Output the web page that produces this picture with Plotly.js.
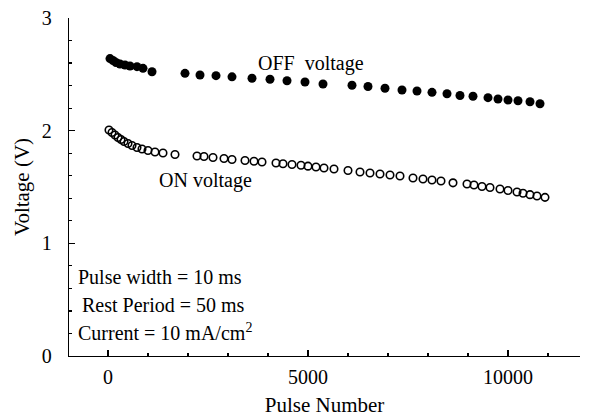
<!DOCTYPE html>
<html>
<head>
<meta charset="utf-8">
<script src="https://cdn.plot.ly/plotly-3.0.1.min.js"></script>
<style>html,body{margin:0;padding:0;background:#fff;}#chart{width:600px;height:418px;}</style>
</head>
<body>
<div id="chart"></div>
<script>
// OFF voltage series (filled circles)
const offPulse = [50,125,200,300,425,550,725,875,1100,1925,2300,2700,3100,3600,4050,4475,4925,5375,6100,6500,6925,7350,7725,8100,8475,8800,9125,9500,9750,10000,10250,10550,10800];
const offVoltage = [2.640,2.623,2.605,2.592,2.583,2.574,2.568,2.553,2.523,2.509,2.494,2.488,2.478,2.465,2.456,2.443,2.432,2.414,2.403,2.392,2.376,2.361,2.352,2.340,2.328,2.312,2.305,2.293,2.281,2.272,2.266,2.257,2.239];

// ON voltage series (open circles)
const onPulse = [25,100,175,250,325,400,500,600,725,850,1000,1175,1375,1675,2225,2400,2625,2900,3100,3425,3650,3850,4200,4375,4600,4825,5000,5200,5400,5650,6000,6300,6550,6800,7050,7300,7625,7875,8100,8325,8625,8975,9150,9350,9550,9800,10000,10225,10375,10550,10725,10925];
const onVoltage = [2.006,1.984,1.961,1.939,1.922,1.904,1.886,1.868,1.851,1.837,1.824,1.811,1.802,1.788,1.775,1.771,1.762,1.753,1.744,1.735,1.729,1.722,1.713,1.706,1.700,1.693,1.685,1.677,1.669,1.660,1.646,1.633,1.624,1.615,1.606,1.598,1.580,1.571,1.562,1.553,1.537,1.527,1.518,1.504,1.496,1.482,1.469,1.456,1.444,1.432,1.420,1.408];

// Tick labels
const xTicks = [0, 5000, 10000];
const yTicks = [0, 1, 2, 3];

const serif = 'Liberation Serif, Times New Roman, serif';

const traces = [
  {x: offPulse, y: offVoltage, type: 'scatter', mode: 'markers', name: 'OFF voltage',
   marker: {symbol: 'circle', size: 9, color: '#000'}},
  {x: onPulse, y: onVoltage, type: 'scatter', mode: 'markers', name: 'ON voltage',
   marker: {symbol: 'circle-open', size: 7.5, color: '#000', line: {width: 1.6, color: '#000'}}}
];

const layout = {
  width: 600, height: 418,
  margin: {l: 69, r: 20, t: 18, b: 62},
  paper_bgcolor: '#fff', plot_bgcolor: '#fff',
  showlegend: false,
  font: {family: serif, color: '#000', size: 19},
  xaxis: {
    range: [-975, 11800], tickvals: xTicks, ticktext: xTicks.map(String),
    ticks: 'inside', ticklen: 6, tickwidth: 1.2, tickcolor: '#000',
    minor: {dtick: 1000, tick0: 0, ticks: 'inside', ticklen: 3, tickcolor: '#000'},
    showline: true, linecolor: '#000', linewidth: 1.3,
    showgrid: false, zeroline: false, automargin: false,
    ticklabelstandoff: 3,
    tickfont: {family: serif, size: 20, color: '#000'},
    title: {text: 'Pulse Number', font: {family: serif, size: 21, color: '#000'}, standoff: 10}
  },
  yaxis: {
    range: [0, 3], tickvals: yTicks, ticktext: yTicks.map(String),
    ticks: 'inside', ticklen: 6, tickwidth: 1.2, tickcolor: '#000',
    minor: {dtick: 0.2, tick0: 0, ticks: 'inside', ticklen: 3, tickcolor: '#000'},
    showline: true, linecolor: '#000', linewidth: 1.3,
    showgrid: false, zeroline: false, automargin: false,
    ticklabelstandoff: 12,
    tickfont: {family: serif, size: 20, color: '#000'},
    title: {text: 'Voltage (V)', font: {family: serif, size: 21, color: '#000'}, standoff: 6}
  },
  annotations: [
    {xref: 'paper', yref: 'paper', x: 0.365, y: 0.865, xanchor: 'left', yanchor: 'middle', showarrow: false,
     text: 'OFF&nbsp;&nbsp;voltage', font: {family: serif, size: 20, color: '#000'}},
    {xref: 'paper', yref: 'paper', x: 0.172, y: 0.520, xanchor: 'left', yanchor: 'middle', showarrow: false,
     text: 'ON voltage', font: {family: serif, size: 20, color: '#000'}},
    {xref: 'paper', yref: 'paper', x: 0.014, y: 0.234, xanchor: 'left', yanchor: 'middle', showarrow: false,
     text: 'Pulse width = 10 ms', font: {family: serif, size: 20, color: '#000'}},
    {xref: 'paper', yref: 'paper', x: 0.022, y: 0.151, xanchor: 'left', yanchor: 'middle', showarrow: false,
     text: 'Rest Period = 50 ms', font: {family: serif, size: 20, color: '#000'}},
    {xref: 'paper', yref: 'paper', x: 0.014, y: 0.071, xanchor: 'left', yanchor: 'middle', showarrow: false,
     text: 'Current = 10 mA/cm<sup>2</sup>', font: {family: serif, size: 20, color: '#000'}}
  ]
};

Plotly.newPlot('chart', traces, layout, {displayModeBar: false, staticPlot: true});
</script>
</body>
</html>
